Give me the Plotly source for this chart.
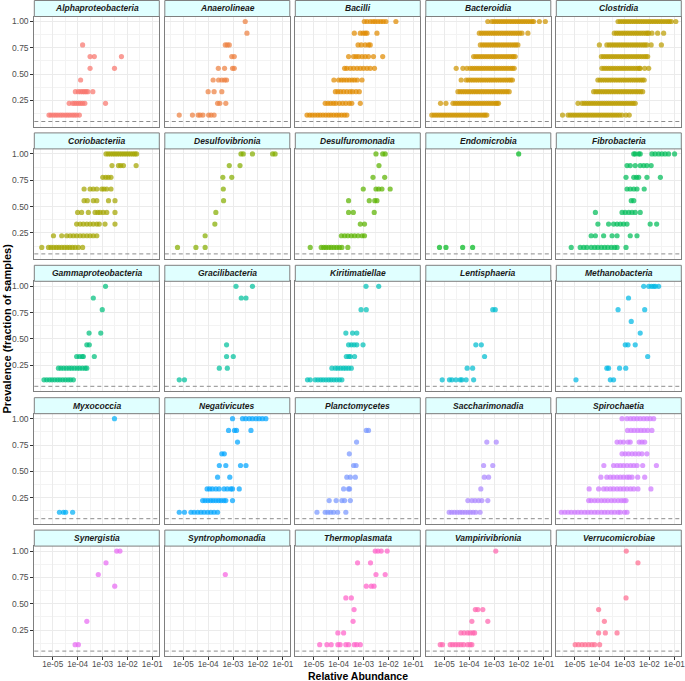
import math
import plotly.graph_objects as go

# ---------------- data (x stored as log10 relative abundance, keyed by # of positive samples out of 9) -------------
N_SAMPLES = 9
CLASSES = ["Alphaproteobacteria", "Anaerolineae", "Bacilli", "Bacteroidia", "Clostridia",
           "Coriobacteriia", "Desulfovibrionia", "Desulfuromonadia", "Endomicrobia", "Fibrobacteria",
           "Gammaproteobacteria", "Gracilibacteria", "Kiritimatiellae", "Lentisphaeria", "Methanobacteria",
           "Myxococcia", "Negativicutes", "Planctomycetes", "Saccharimonadia", "Spirochaetia",
           "Synergistia", "Syntrophomonadia", "Thermoplasmata", "Vampirivibrionia", "Verrucomicrobiae"]

ALPHAPROTEOBACTERIA = {
    7: [-3.80], 6: [-3.50, -3.33, -2.24], 5: [-3.50, -2.52], 4: [-3.88],
    3: [-4.09, -3.97, -3.88, -3.80, -3.73, -3.66, -3.59, -3.39],
    2: [-4.34, -4.20, -4.12, -4.04, -3.96, -3.88, -3.80, -3.71, -2.88],
    1: [-5.15, -5.07, -4.97, -4.88, -4.79, -4.69, -4.60, -4.50, -4.41, -4.32, -4.22, -4.13, -4.04, -3.93],
}
ANAEROLINEAE = {
    9: [-2.51], 8: [-2.44], 7: [-3.31, -3.23, -3.15], 6: [-3.05, -2.95],
    5: [-3.59, -3.34, -3.02, -2.95], 4: [-3.80, -3.58, -3.45, -3.34, -3.26],
    3: [-4.00, -3.76, -3.45], 2: [-3.62, -3.53, -3.29],
    1: [-5.16, -4.63, -4.40, -4.32, -4.21, -3.98, -3.88, -3.76],
}
BACILLI = {
    9: [-2.97, -2.86, -2.73, -2.62, -2.53, -2.42, -2.31, -2.21, -2.10, -1.70],
    8: [-3.37, -3.13, -3.02, -2.93, -2.86, -2.46],
    7: [-3.22, -3.09, -2.93, -2.80, -2.73],
    6: [-3.60, -3.40, -3.30, -3.20, -3.06, -2.93, -2.80, -2.60, -2.23],
    5: [-3.76, -3.67, -3.53, -3.40, -3.26, -3.13, -3.00, -2.86, -2.73, -2.56],
    4: [-4.19, -4.00, -3.89, -3.79, -3.68, -3.57, -3.46, -3.36, -3.25, -3.06],
    3: [-4.13, -4.03, -3.92, -3.80, -3.67, -3.54, -3.44, -3.30, -3.17],
    2: [-4.54, -4.43, -4.32, -4.21, -4.11, -3.97, -3.84, -3.71, -3.57, -3.47, -3.13],
    1: [-5.27, -5.16, -5.06, -4.95, -4.84, -4.74, -4.63, -4.52, -4.41, -4.31, -4.20, -4.09, -3.99, -3.88, -3.77, -3.67],
}
BACTEROIDIA = {
    9: [-3.25, -3.09, -3.00, -2.91, -2.82, -2.73, -2.64, -2.55, -2.46, -2.37, -2.28, -2.19, -2.10, -2.01,
        -1.92, -1.83, -1.74, -1.65, -1.56, -1.47, -1.41, -1.18, -0.94],
    8: [-3.59, -3.50, -3.41, -3.32, -3.23, -3.14, -3.05, -2.96, -2.87, -2.78, -2.69, -2.60, -2.51, -2.42,
        -2.33, -2.24, -2.15, -2.06, -1.97, -1.88, -1.64],
    7: [-3.55, -3.46, -3.37, -3.28, -3.19, -3.10, -3.01, -2.92, -2.83, -2.74, -2.65, -2.56, -2.47, -2.38,
        -2.29, -2.20, -2.12, -2.04],
    6: [-3.82, -3.73, -3.64, -3.55, -3.46, -3.37, -3.28, -3.19, -3.10, -3.01, -2.92, -2.83, -2.74, -2.65,
        -2.56, -2.47, -2.38, -2.29, -2.22, -2.15],
    5: [-4.52, -4.25, -4.09, -3.96, -3.87, -3.78, -3.69, -3.60, -3.51, -3.42, -3.33, -3.24, -3.15, -3.06,
        -2.97, -2.88, -2.79, -2.70, -2.61, -2.52, -2.43, -2.34, -2.26, -2.19],
    4: [-4.32, -4.12, -4.03, -3.94, -3.85, -3.76, -3.67, -3.58, -3.49, -3.40, -3.31, -3.22, -3.13, -3.04,
        -2.95, -2.86, -2.77, -2.68, -2.59, -2.50, -2.41, -2.33, -2.26],
    3: [-4.45, -4.36, -4.27, -4.18, -4.09, -4.00, -3.91, -3.82, -3.73, -3.64, -3.55, -3.46, -3.37, -3.28,
        -3.19, -3.10, -3.01, -2.92, -2.83, -2.74, -2.65, -2.56, -2.47, -2.39],
    2: [-5.15, -4.93, -4.65, -4.56, -4.47, -4.38, -4.29, -4.20, -4.11, -4.02, -3.93, -3.84, -3.75, -3.66,
        -3.57, -3.48, -3.39, -3.30, -3.21, -3.12, -3.03, -2.94, -2.88, -2.82],
    1: [-5.50, -5.41, -5.32, -5.23, -5.14, -5.05, -4.96, -4.87, -4.78, -4.69, -4.60, -4.51, -4.42, -4.33,
        -4.24, -4.15, -4.06, -3.97, -3.88, -3.79, -3.70, -3.61, -3.52, -3.43, -3.36, -3.29],
}
CLOSTRIDIA = {
    9: [-3.26, -3.17, -3.08, -2.99, -2.90, -2.81, -2.72, -2.63, -2.54, -2.45, -2.36, -2.27, -2.18, -2.09,
        -2.00, -1.91, -1.82, -1.73, -1.64, -1.55, -1.46, -1.37, -1.28, -1.20, -1.12, -0.94],
    8: [-3.41, -3.32, -3.23, -3.14, -3.05, -2.96, -2.87, -2.78, -2.69, -2.60, -2.51, -2.42, -2.33, -2.24,
        -2.15, -2.08, -2.03, -1.90, -1.67, -1.43],
    7: [-4.01, -3.71, -3.61, -3.52, -3.43, -3.34, -3.25, -3.16, -3.07, -2.98, -2.89, -2.80, -2.71, -2.62,
        -2.53, -2.44, -2.35, -2.26, -2.18, -2.10, -1.93, -1.52],
    6: [-3.93, -3.84, -3.75, -3.66, -3.57, -3.48, -3.39, -3.30, -3.21, -3.12, -3.03, -2.94, -2.85, -2.76,
        -2.67, -2.58, -2.49, -2.40, -2.31, -2.22, -2.14, -2.07],
    5: [-3.91, -3.82, -3.73, -3.64, -3.55, -3.46, -3.37, -3.28, -3.19, -3.10, -3.01, -2.92, -2.83, -2.74,
        -2.65, -2.56, -2.47, -2.40, -2.37, -2.19, -2.03],
    4: [-4.07, -3.98, -3.89, -3.80, -3.71, -3.62, -3.53, -3.44, -3.35, -3.26, -3.17, -3.08, -2.99, -2.90,
        -2.81, -2.72, -2.63, -2.54, -2.45, -2.36, -2.28, -2.21],
    3: [-4.24, -4.15, -4.06, -3.97, -3.88, -3.79, -3.70, -3.61, -3.52, -3.43, -3.34, -3.25, -3.16, -3.07,
        -2.98, -2.89, -2.80, -2.71, -2.62, -2.53, -2.44, -2.35, -2.27],
    2: [-4.87, -4.71, -4.62, -4.53, -4.44, -4.35, -4.26, -4.17, -4.08, -3.99, -3.90, -3.81, -3.72, -3.63,
        -3.54, -3.45, -3.36, -3.27, -3.18, -3.09, -3.00, -2.91, -2.82, -2.73, -2.65, -2.57],
    1: [-5.49, -5.27, -5.18, -5.09, -5.00, -4.91, -4.82, -4.73, -4.64, -4.55, -4.46, -4.37, -4.28, -4.19,
        -4.10, -4.01, -3.92, -3.83, -3.74, -3.65, -3.56, -3.47, -3.38, -3.29, -3.20, -3.10, -2.94, -2.81],
}
CORIOBACTERIIA = {
    9: [-2.86, -2.77, -2.68, -2.59, -2.50, -2.41, -2.32, -2.23, -2.14, -2.05, -1.96, -1.87, -1.78, -1.70, -1.63],
    8: [-2.62, -2.36, -2.27, -2.16, -1.65],
    7: [-2.99, -2.87, -2.77, -2.66],
    6: [-3.74, -3.50, -3.37, -3.23, -3.03, -2.94, -2.83, -2.66],
    5: [-3.74, -3.61, -3.37, -3.23, -2.76, -2.50],
    4: [-4.00, -3.84, -3.57, -3.30, -3.19, -3.10, -2.97, -2.83, -2.50],
    3: [-4.04, -3.90, -3.77, -3.63, -3.50, -3.37, -3.23, -3.13, -2.90, -2.50],
    2: [-4.97, -4.64, -4.44, -4.30, -4.17, -4.04, -3.90, -3.77, -3.63, -3.50, -3.37, -3.23],
    1: [-5.44, -5.17, -5.07, -4.96, -4.85, -4.75, -4.64, -4.53, -4.42, -4.32, -4.21, -4.10, -3.97, -3.80],
}
DESULFOVIBRIONIA = {
    9: [-2.68, -2.59, -2.22, -1.41, -1.31], 8: [-3.15, -2.72], 7: [-3.41, -3.05], 6: [-3.39],
    5: [-3.38], 4: [-3.69], 3: [-3.73], 2: [-4.12], 1: [-5.23, -4.49, -4.12],
}
DESULFUROMONADIA = {
    9: [-2.50, -2.23, -2.13], 8: [-2.38], 7: [-2.62, -2.15], 6: [-3.01, -2.50, -2.39, -2.26, -1.93],
    5: [-3.60, -2.77, -2.55, -2.46], 4: [-3.60, -3.41, -2.57], 3: [-3.13, -2.96],
    2: [-3.89, -3.76, -3.63, -3.49, -3.36, -3.22, -3.06, -2.96],
    1: [-5.14, -4.70, -4.60, -4.51, -4.40, -4.30, -4.19, -4.08, -3.97, -3.87, -3.63],
}
ENDOMICROBIA = {
    9: [-2.01], 1: [-5.19, -4.93, -4.26, -3.86],
}
FIBROBACTERIA = {
    9: [-2.63, -2.57, -2.43, -2.37, -1.90, -1.77, -1.63, -1.50, -1.37, -1.23, -0.99],
    8: [-2.90, -2.77, -2.57, -2.37, -2.23, -2.10, -1.93],
    7: [-2.94, -2.63, -2.52, -2.43, -2.10, -1.56],
    6: [-2.90, -2.77, -2.63, -2.50, -2.21],
    5: [-2.73, -2.63],
    4: [-4.17, -3.10, -2.97, -2.83, -2.70, -2.57, -2.37],
    3: [-4.07, -3.64, -3.44, -3.30, -3.17, -3.04, -2.90, -1.97, -1.71],
    2: [-4.34, -4.17, -3.84, -3.50, -3.30, -2.77, -2.50],
    1: [-5.14, -4.78, -4.64, -4.51, -4.34, -4.20, -4.07, -3.93, -3.80, -3.67, -3.53, -3.40, -3.30, -2.94],
}
GAMMAPROTEOBACTERIA = {
    9: [-2.88], 8: [-3.37], 7: [-3.01], 5: [-3.54, -3.07], 4: [-3.63, -3.53],
    3: [-4.04, -3.93, -3.82, -3.77, -3.33],
    2: [-4.77, -4.67, -4.56, -4.45, -4.34, -4.24, -4.13, -4.02, -3.92, -3.81, -3.70, -3.63],
    1: [-5.35, -5.24, -5.13, -5.03, -4.92, -4.81, -4.71, -4.60, -4.49, -4.38, -4.28, -4.17],
}
GRACILIBACTERIA = {
    9: [-2.88, -2.22], 8: [-2.67, -2.48], 4: [-3.26], 3: [-3.26, -2.99], 2: [-3.55, -3.23], 1: [-5.16, -4.95],
}
KIRITIMATIELLAE = {
    9: [-2.90, -2.39], 7: [-3.10, -2.89], 5: [-3.71, -3.44, -3.27], 4: [-3.60, -3.49, -3.38, -3.27, -3.02],
    3: [-3.69, -3.59, -3.53, -3.36],
    2: [-4.27, -4.13, -4.03, -3.92, -3.81, -3.71, -3.60, -3.49],
    1: [-5.25, -5.14, -4.94, -4.83, -4.72, -4.62, -4.51, -4.40, -4.30, -4.19, -4.08, -3.97, -3.87],
}
LENTISPHAERIA = {
    7: [-3.05, -2.95], 4: [-3.73, -3.51], 3: [-3.38], 2: [-4.08, -3.86],
    1: [-5.08, -4.79, -4.69, -4.53, -4.36, -4.29, -4.12, -3.82],
}
METHANOBACTERIA = {
    9: [-2.23, -2.03, -1.92, -1.83, -1.76, -1.63], 8: [-2.84], 7: [-3.26, -2.19], 6: [-2.73], 5: [-2.37],
    4: [-2.97, -2.86, -2.57], 3: [-2.07], 2: [-3.71, -3.64, -3.20, -2.95], 1: [-4.95, -3.57, -3.44],
}
MYXOCOCCIA = {
    9: [-2.52], 1: [-4.73, -4.57, -4.48, -4.20],
}
NEGATIVICUTES = {
    9: [-3.02, -2.62, -2.49, -2.35, -2.22, -2.08, -1.95, -1.82, -1.68],
    8: [-3.18, -2.94, -2.86, -2.28], 7: [-2.82], 6: [-3.45, -3.35], 5: [-3.55, -3.29, -2.70, -2.48],
    4: [-3.62, -3.13],
    3: [-4.04, -3.94, -3.83, -3.69, -3.56, -3.36, -3.23, -3.09, -3.02, -2.75],
    2: [-4.22, -4.12, -4.01, -3.90, -3.80, -3.69, -3.58, -3.48, -3.37, -3.29, -3.02],
    1: [-5.16, -4.95, -4.69, -4.56, -4.42, -4.29, -4.16, -4.02, -3.89, -3.76, -3.62],
}
PLANCTOMYCETES = {
    8: [-2.89, -2.80], 7: [-3.28], 6: [-3.57], 5: [-3.40, -3.30], 4: [-3.67, -3.53, -3.33],
    3: [-3.80, -3.60, -3.56], 2: [-4.38, -4.10, -3.87, -3.76, -3.53],
    1: [-4.87, -4.54, -4.43, -4.32, -4.20, -4.04, -3.71],
}
SACCHARIMONADIA = {
    7: [-3.29, -2.91], 5: [-3.42, -3.05], 4: [-3.39, -3.22], 3: [-3.53],
    2: [-4.05, -3.89, -3.76, -3.62, -3.49, -3.25],
    1: [-4.80, -4.70, -4.59, -4.48, -4.37, -4.27, -4.16, -4.05, -3.95, -3.84, -3.73, -3.56],
}
SPIROCHAETIA = {
    9: [-3.10, -2.90, -2.76, -2.63, -2.50, -2.37, -2.23, -2.10, -1.97, -1.83],
    8: [-2.88, -2.74, -2.61, -2.47, -2.34, -2.21, -2.07, -1.90],
    7: [-3.30, -3.17, -3.04, -2.86, -2.77, -2.41, -2.30, -2.19],
    6: [-3.10, -2.97, -2.84, -2.70, -2.57, -2.43, -2.30, -2.10],
    5: [-3.83, -3.44, -3.30, -3.17, -3.04, -2.90, -2.76, -2.63, -2.50, -2.27, -1.72],
    4: [-3.95, -3.71, -3.57, -3.44, -3.30, -3.17, -3.04, -2.90, -2.81, -2.70, -2.47, -2.19],
    3: [-4.42, -4.04, -3.84, -3.71, -3.57, -3.44, -3.30, -3.17, -3.04, -2.90, -2.76, -2.63, -2.46, -1.94],
    2: [-4.44, -4.34, -4.20, -4.07, -3.93, -3.80, -3.67, -3.53, -3.40, -3.26, -3.13, -3.02, -2.94],
    1: [-5.54, -5.40, -5.27, -5.14, -5.00, -4.87, -4.74, -4.60, -4.47, -4.34, -4.20, -4.07, -3.93, -3.80,
        -3.67, -3.53, -3.40, -3.26, -3.17, -3.00, -2.90],
}
SYNERGISTIA = {
    9: [-2.43, -2.30], 8: [-2.86], 7: [-3.17], 6: [-2.51], 3: [-3.63], 1: [-4.10, -3.97],
}
SYNTROPHOMONADIA = {
    7: [-3.31],
}
THERMOPLASMATA = {
    9: [-2.53, -2.42, -2.29, -2.05], 8: [-3.24, -2.72], 7: [-2.50, -2.13], 6: [-2.89, -2.69, -2.58],
    5: [-3.71, -3.49], 4: [-3.38], 3: [-3.42], 2: [-4.03, -3.80],
    1: [-4.76, -4.47, -4.30, -4.03, -3.94, -3.71, -3.60, -3.37, -3.27, -3.13],
}
VAMPIRIVIBRIONIA = {
    9: [-2.93], 4: [-3.75, -3.65, -3.45], 3: [-3.89, -3.25],
    2: [-4.33, -4.20, -4.06, -3.96, -3.85, -3.78],
    1: [-5.16, -5.07, -4.76, -4.66, -4.55, -4.44, -4.33, -4.22, -4.06, -3.96, -3.89],
}
VERRUCOMICROBIAE = {
    9: [-2.93], 8: [-2.46], 5: [-2.94], 4: [-4.04], 3: [-3.81], 2: [-4.04, -3.77, -3.30],
    1: [-4.98, -4.85, -4.71, -4.58, -4.44, -4.31, -4.20, -4.00],
}

CLASS_DATA = [ALPHAPROTEOBACTERIA, ANAEROLINEAE, BACILLI, BACTEROIDIA, CLOSTRIDIA,
              CORIOBACTERIIA, DESULFOVIBRIONIA, DESULFUROMONADIA, ENDOMICROBIA, FIBROBACTERIA,
              GAMMAPROTEOBACTERIA, GRACILIBACTERIA, KIRITIMATIELLAE, LENTISPHAERIA, METHANOBACTERIA,
              MYXOCOCCIA, NEGATIVICUTES, PLANCTOMYCETES, SACCHARIMONADIA, SPIROCHAETIA,
              SYNERGISTIA, SYNTROPHOMONADIA, THERMOPLASMATA, VAMPIRIVIBRIONIA, VERRUCOMICROBIAE]

X_TICKS = [1e-5, 1e-4, 1e-3, 1e-2, 1e-1]
X_TICKTEXT = ["1e-05", "1e-04", "1e-03", "1e-02", "1e-01"]
Y_TICKS = [0.25, 0.50, 0.75, 1.00]
Y_TICKTEXT = ["0.25", "0.50", "0.75", "1.00"]
THRESHOLD = 0.05


# ---------------- ggplot-like hue palette -------------
def hcl_hex(h, c=100.0, l=65.0):
    WX, WY, WZ = 95.047, 100.0, 108.883
    hr = math.radians(h)
    U, V = c * math.cos(hr), c * math.sin(hr)
    Y = WY * ((l + 16) / 116) ** 3
    den = WX + 15 * WY + 3 * WZ
    un, vn = 4 * WX / den, 9 * WY / den
    u = U / (13 * l) + un
    v = V / (13 * l) + vn
    X = 9.0 * Y * u / (4 * v)
    Z = -X / 3 - 5 * Y + 3 * Y / v

    def g(t):
        t = 1.055 * t ** (1 / 2.4) - 0.055 if t > 0.00304 else 12.92 * t
        return max(0, min(255, round(255 * t)))
    r = g((3.240479 * X - 1.537150 * Y - 0.498535 * Z) / WY)
    gg = g((-0.969256 * X + 1.875992 * Y + 0.041556 * Z) / WY)
    b = g((0.055648 * X - 0.204043 * Y + 1.057311 * Z) / WY)
    return "#%02X%02X%02X" % (r, gg, b)


n = len(CLASSES)
COLORS = [hcl_hex(15 + 360 * i / n) for i in range(n)]

# ---------------- layout geometry (pixels) -------------
W, H = 685, 681
COL_LEFT = [34.3 + 130.5 * k for k in range(5)]
PANEL_W = 125.0
STRIP_H = 16.0
PANEL_H = 110.0
ROW_TOP = [0.5 + 132.4 * k for k in range(5)]

FONT = "Liberation Sans, Arial, sans-serif"
BORDER = "#7F7F7F"
GRID = "#EBEBEB"

fig = go.Figure()
layout = {}
shapes = []
annotations = []

for idx, (name, d) in enumerate(zip(CLASSES, CLASS_DATA)):
    r, c = divmod(idx, 5)
    sfx = "" if idx == 0 else str(idx + 1)
    xs, ys = [], []
    for lvl, vals in d.items():
        for v in vals:
            xs.append(10 ** v)
            ys.append(lvl / N_SAMPLES)
    fig.add_trace(go.Scatter(
        x=xs, y=ys, mode="markers", xaxis="x" + sfx, yaxis="y" + sfx,
        marker=dict(color=COLORS[idx], size=5.2, opacity=0.72, line=dict(width=0)),
        showlegend=False, hoverinfo="skip"))

    px0 = COL_LEFT[c]
    px1 = px0 + PANEL_W
    st = ROW_TOP[r]
    pt = st + STRIP_H
    pb = pt + PANEL_H
    x0, x1 = px0 / W, px1 / W
    y0, y1 = 1 - pb / H, 1 - pt / H

    bottom = (r == 4)
    left = (c == 0)
    layout["xaxis" + sfx] = dict(
        domain=[x0, x1], anchor="y" + sfx, type="log", range=[-5.74, -0.72],
        tickmode="array", tickvals=X_TICKS, ticktext=X_TICKTEXT,
        showticklabels=bottom, ticks="outside" if bottom else "", ticklen=2.5, tickwidth=1,
        ticklabelstandoff=-2, ticklabeloverflow="allow",
        tickcolor="#333333", tickfont=dict(size=8.2, color="#4D4D4D", family=FONT),
        showgrid=True, gridcolor=GRID, gridwidth=1, zeroline=False,
        minor=dict(tickmode="array", tickvals=[10 ** (-5.5), 10 ** (-4.5), 10 ** (-3.5), 10 ** (-2.5), 10 ** (-1.5)],
                   showgrid=True, gridcolor="#F3F3F3", gridwidth=0.6, ticks=""),
        showline=True, mirror=True, linecolor=BORDER, linewidth=1, automargin=False, fixedrange=True)
    layout["yaxis" + sfx] = dict(
        domain=[y0, y1], anchor="x" + sfx, range=[0.0025, 1.0475],
        tickmode="array", tickvals=Y_TICKS, ticktext=Y_TICKTEXT,
        showticklabels=left, ticks="outside" if left else "", ticklen=3, tickwidth=1,
        tickcolor="#333333", tickfont=dict(size=8.5, color="#4D4D4D", family=FONT),
        showgrid=True, gridcolor=GRID, gridwidth=1, zeroline=False,
        minor=dict(tickmode="array", tickvals=[0.125, 0.375, 0.625, 0.875],
                   showgrid=True, gridcolor="#F3F3F3", gridwidth=0.6, ticks=""),
        showline=True, mirror=True, linecolor=BORDER, linewidth=1, automargin=False, fixedrange=True)

    # threshold line
    shapes.append(dict(type="line", xref="x%s domain" % sfx, yref="y" + sfx,
                       x0=0, x1=1, y0=THRESHOLD, y1=THRESHOLD,
                       line=dict(color="#8C8C8C", width=1, dash="4px,3px"), layer="above"))
    # strip
    shapes.append(dict(type="rect", xref="paper", yref="paper",
                       x0=x0, x1=x1, y0=1 - pt / H, y1=1 - st / H,
                       fillcolor="#E0FFFF", line=dict(color=BORDER, width=1), layer="above"))
    annotations.append(dict(text="<b><i>%s</i></b>" % name, xref="paper", yref="paper",
                            x=(x0 + x1) / 2, y=1 - (st + STRIP_H / 2) / H,
                            xanchor="center", yanchor="middle", showarrow=False,
                            font=dict(size=8.5, color="#1A1A1A", family=FONT)))

annotations.append(dict(text="<b>Prevalence (fraction of samples)</b>", xref="paper", yref="paper",
                        x=6.5 / W, y=1 - 329 / H, textangle=-90, xanchor="center", yanchor="middle",
                        showarrow=False, font=dict(size=11, color="#000000", family=FONT)))
annotations.append(dict(text="<b>Relative Abundance</b>", xref="paper", yref="paper",
                        x=357.8 / W, y=1 - 676.0 / H, xanchor="center", yanchor="middle",
                        showarrow=False, borderpad=0, font=dict(size=10.5, color="#000000", family=FONT)))

fig.update_layout(**layout)
fig.update_layout(width=W, height=H, margin=dict(l=0, r=0, t=0, b=0),
                  paper_bgcolor="white", plot_bgcolor="white",
                  shapes=shapes, annotations=annotations, showlegend=False,
                  font=dict(family=FONT))
fig.write_html("out.html", config={"displayModeBar": False},
               post_script="document.body.style.margin='0px';document.body.style.padding='0px';"
                           "document.body.style.overflow='hidden';")
